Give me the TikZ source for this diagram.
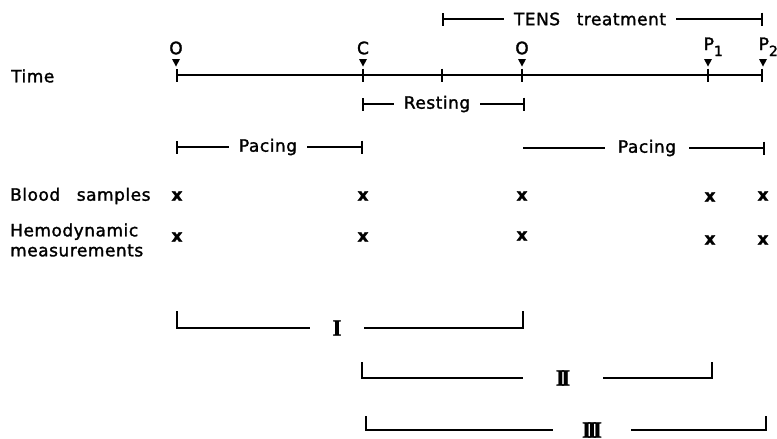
\documentclass[tikz,border=0pt]{standalone}
\usepackage{fontspec}
\setmainfont{DejaVu Sans}[LetterSpace=3.0,WordSpace=2.8,FakeBold=1.6]
\newfontfamily\romfont{Liberation Serif}[FakeBold=1]
\usetikzlibrary{arrows.meta}
\begin{document}
\begin{tikzpicture}[x=1pt,y=-1pt,
  every node/.style={font=\fontsize{17}{20}\selectfont, inner sep=0pt},
  ln/.style={line width=1.7pt},
  lbar/.style={ln,{Bar[width=13pt,line width=1.7pt]}-},
  rbar/.style={ln,-{Bar[width=13pt,line width=1.7pt]}},
  span/.style={inner xsep=10pt},
  rowlab/.style={anchor=west, align=left},
  xmark/.style={font=\fontsize{17}{17}\selectfont\bfseries},
  rom/.style={font=\romfont\fontsize{23}{23}\selectfont\bfseries},
  tri/.style={fill=black}
]
\useasboundingbox (0,0) rectangle (777,439);

% time axis
\coordinate (t0) at (176,75);
\coordinate (tC) at (363,75);
\coordinate (tM) at (442,75);
\coordinate (tO) at (522,75);
\coordinate (tP1) at (708,75);
\coordinate (tP2) at (763,75);
\node[rowlab] (time) at (11,76) {Time};
\draw[ln,{Bar[width=13pt,line width=1.7pt]}-{Bar[width=13pt,line width=1.7pt]}] (t0) -- (tP2);
\foreach \c in {tC,tM,tO,tP1}
  \draw[ln] ([yshift=6.5pt]\c) -- ([yshift=-6.5pt]\c);
\foreach \c in {t0,tC,tO,tP1,tP2}
  \fill[tri] ([shift={(-4pt,16pt)}]\c) -- ++(8pt,0pt) -- ++(-4pt,-7.5pt) -- cycle;

% event labels
\node (lO1) at (176,48) {O};
\node (lC) at (363,48) {C};
\node (lO2) at (522,48) {O};
\node[anchor=base west] (lP1) at (703.5,50) {P\raisebox{-6pt}{\fontsize{14}{14}\selectfont 1}};
\node[anchor=base west] (lP2) at (758.5,50) {P\raisebox{-6pt}{\fontsize{14}{14}\selectfont 2}};

% TENS treatment
\coordinate (tensA) at (442,19);
\coordinate (tensB) at (763,19);
\node[span] (tens) at (590,19) {TENS treatment};
\draw[lbar] (tensA) -- (tens.west);
\draw[rbar] (tens.east) -- (tensB);

% Resting
\coordinate (restA) at (362,104);
\coordinate (restB) at (525,104);
\node[span] (rest) at (437,104) {Resting};
\draw[lbar] (restA) -- (rest.west);
\draw[rbar] (rest.east) -- (restB);

% Pacing (left)
\coordinate (pacA) at (176,147);
\coordinate (pacB) at (363,147);
\node[span] (pacL) at (268,147) {Pacing};
\draw[lbar] (pacA) -- (pacL.west);
\draw[rbar] (pacL.east) -- (pacB);

% Pacing (right)
\coordinate (pacC) at (523,148);
\coordinate (pacD) at (765,148);
\node[inner xsep=13pt] (pacR) at (647,148) {Pacing};
\draw[ln] (pacC) -- (pacR.west);
\draw[rbar] (pacR.east) -- (pacD);

% row labels
\node[rowlab] (blood) at (10,196) {Blood samples};
\node[rowlab] (hemo) at (10,240) {Hemodynamic\\measurements};

% marks
\node[xmark] (b1) at (177,196) {x};
\node[xmark] (b2) at (363,196) {x};
\node[xmark] (b3) at (522,196) {x};
\node[xmark] (b4) at (710,197) {x};
\node[xmark] (b5) at (763,196) {x};
\node[xmark] (h1) at (177,237) {x};
\node[xmark] (h2) at (363,237) {x};
\node[xmark] (h3) at (522,236) {x};
\node[xmark] (h4) at (710,240) {x};
\node[xmark] (h5) at (763,240) {x};

% brackets
\coordinate (Ia) at (177,311);
\coordinate (Ib) at (523,311);
\node[rom,inner xsep=22pt] (nI) at (337,328) {I};
\draw[ln] (Ia) |- (nI.west);
\draw[ln] (Ib) |- (nI.east);

\coordinate (IIa) at (362,362);
\coordinate (IIb) at (712,362);
\node[rom,inner xsep=33pt] (nII) at (563,378) {I\kern-3.5pt I};
\draw[ln] (IIa) |- (nII.west);
\draw[ln] (IIb) |- (nII.east);

\coordinate (IIIa) at (366,416);
\coordinate (IIIb) at (766,416);
\node[rom,inner xsep=29pt] (nIII) at (592,430) {I\kern-3.5pt I\kern-3.5pt I};
\draw[ln] (IIIa) |- (nIII.west);
\draw[ln] (IIIb) |- (nIII.east);
\end{tikzpicture}
\end{document}
